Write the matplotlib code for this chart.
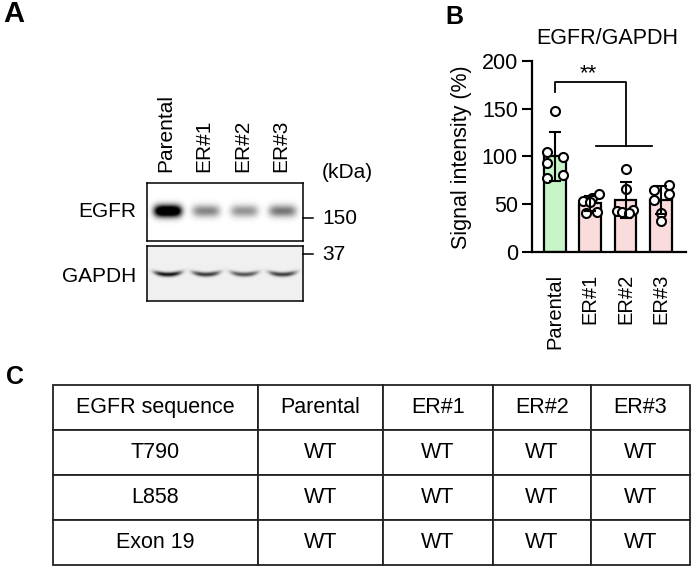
import numpy as np
import matplotlib
matplotlib.use('Agg')
import matplotlib.pyplot as plt
from matplotlib.lines import Line2D

plt.rcParams['font.family'] = ['Liberation Sans', 'DejaVu Sans']

# --- data ---
lanes = ['Parental', 'ER#1', 'ER#2', 'ER#3']
egfr_band = [1.0, 0.32, 0.28, 0.36]      # relative band darkness in the blot
gapdh_band = [0.85, 0.70, 0.60, 0.68]
marker_kda = ['150', '37']

parental = [148, 105, 99, 93, 77, 80]
er1 = [53, 56, 61, 41, 42, 52]
er2 = [87, 66, 43, 42, 44, 41]
er3 = [65, 54, 70, 61, 41, 32]
jitter = [[0, -0.23, 0.24, -0.23, -0.23, 0.24],
          [-0.2, 0.05, 0.26, -0.11, 0.19, 0.0],
          [0, 0, -0.23, -0.1, 0.21, 0.1],
          [-0.2, -0.2, 0.23, 0.23, 0, 0]]
bar_colors = ['#c8f5c8', '#fbdcdc', '#fbdcdc', '#fbdcdc']

table_cols = ['EGFR sequence', 'Parental', 'ER#1', 'ER#2', 'ER#3']
table_rows = ['T790', 'L858', 'Exon 19']
table_status = [['WT', 'WT', 'WT', 'WT'],
                ['WT', 'WT', 'WT', 'WT'],
                ['WT', 'WT', 'WT', 'WT']]
col_px = [205, 125, 110, 98, 99]

W, H = 692, 568
fig = plt.figure(figsize=(W / 100, H / 100), dpi=100)


def box(l, t, r, b):
    return [l / W, 1 - b / H, (r - l) / W, (b - t) / H]


def fx(x):
    return x / W


def fy(y):
    return 1 - y / H


# --- panel A: blot ---
def blot(ax, amps, h_px, yc, wy, smile, bg, sharp):
    xs = np.linspace(-0.535, 3.52, 156)
    ys = np.linspace(0, h_px, int(h_px))
    X, Y = np.meshgrid(xs, ys)
    img = np.full(X.shape, bg)
    for i, a in enumerate(amps):
        dx = X - i
        c = yc - smile * (dx / 0.38) ** 2
        prof = np.exp(-(np.abs(dx) / 0.36) ** 4) * np.exp(-((Y - c) / wy) ** 2)
        img += a * sharp * prof
    img = np.clip(img, 0, 1)
    ax.imshow(img, cmap='gray_r', vmin=0, vmax=1, aspect='auto',
              extent=[-0.535, 3.52, h_px, 0], interpolation='bilinear')
    ax.set_xlim(-0.535, 3.52)
    ax.set_ylim(h_px, 0)
    ax.set_xticks([])
    ax.set_yticks([])
    for s in ax.spines.values():
        s.set_linewidth(1.1)
    return img


ax_e = fig.add_axes(box(146.7, 182.7, 302.7, 241))
blot(ax_e, egfr_band, 58, 28.5, 6.0, 0, 0.0, 1.5)
ax_g = fig.add_axes(box(146.7, 246, 302.7, 300.7))
blot(ax_g, gapdh_band, 55, 28.5, 2.4, 2.5, 0.06, 1.0)

for i, lab in enumerate(lanes):
    ax_e.text(i - 0.05, -10.5, lab, rotation=90, ha='center', va='bottom', fontsize=15)
fig.text(fx(136), fy(212), 'EGFR', ha='right', va='center', fontsize=15)
fig.text(fx(136), fy(276), 'GAPDH', ha='right', va='center', fontsize=15)
fig.text(fx(322), fy(172), '(kDa)', ha='left', va='center', fontsize=15)
for lab, y in zip(marker_kda, [218.3, 254]):
    fig.add_artist(Line2D([fx(303), fx(313)], [fy(y), fy(y)], color='black', lw=1.1))
    fig.text(fx(322), fy(y), lab, ha='left', va='center', fontsize=15)

# --- panel B: bar chart ---
ax = fig.add_axes(box(531.7, 61, 685.7, 251.7))
groups = [parental, er1, er2, er3]
means = [np.mean(g) for g in groups]
sds = [np.std(g, ddof=1) for g in groups]
x = np.arange(4)
ax.bar(x, means, width=0.62, color=bar_colors, edgecolor='black', linewidth=1.6, zorder=1)
for i, g in enumerate(groups):
    ax.plot(i + np.array(jitter[i]), g, 'o', ms=6.5, mfc='white', mec='black',
            mew=1.5, zorder=2, clip_on=False)
ax.errorbar(x, means, yerr=sds, fmt='none', ecolor='black', elinewidth=1.5,
            capsize=4.5, capthick=1.5, zorder=3)
ax.plot([0, 0, 2, 2], [167, 178, 178, 111], color='black', lw=1.3, clip_on=False)
ax.plot([1.18, 2.76], [111, 111], color='black', lw=1.3, clip_on=False)
ax.text(0.95, 180.5, '**', ha='center', va='baseline', fontsize=16)

ax.set_xlim(-0.65, 3.7)
ax.set_ylim(0, 200)
ax.set_yticks([0, 50, 100, 150, 200])
ax.set_xticks(x)
ax.set_xticklabels(lanes, rotation=90, fontsize=14.5, va='top')
ax.tick_params(axis='x', length=0, pad=16)
ax.tick_params(axis='y', length=7, width=1.5, pad=3, labelsize=15.5)
for s in ['top', 'right']:
    ax.spines[s].set_visible(False)
for s in ['left', 'bottom']:
    ax.spines[s].set_linewidth(1.6)
fig.text(fx(461), fy(157), 'Signal intensity (%)', rotation=90, ha='center',
         va='center', fontsize=15.5)
fig.text(fx(607), fy(39), 'EGFR/GAPDH', ha='center', va='center', fontsize=15.5)

# --- panel C: table ---
ax_t = fig.add_axes(box(53, 385, 690, 565))
ax_t.axis('off')
cells = [table_cols] + [[r] + s for r, s in zip(table_rows, table_status)]
tbl = ax_t.table(cellText=cells, cellLoc='center', bbox=[0, 0, 1, 1],
                 colWidths=[c / sum(col_px) for c in col_px])
tbl.auto_set_font_size(False)
tbl.set_fontsize(15.5)
for cell in tbl.get_celld().values():
    cell.set_linewidth(1.3)
    cell.set_edgecolor('#222222')

# panel letters
fig.text(fx(3), fy(14), 'A', ha='left', va='center', fontsize=21, fontweight='bold')
fig.text(fx(445), fy(16.5), 'B', ha='left', va='center', fontsize=18, fontweight='bold')
fig.text(fx(6), fy(377.5), 'C', ha='left', va='center', fontsize=18, fontweight='bold')

fig.savefig('out.png', dpi=100)
